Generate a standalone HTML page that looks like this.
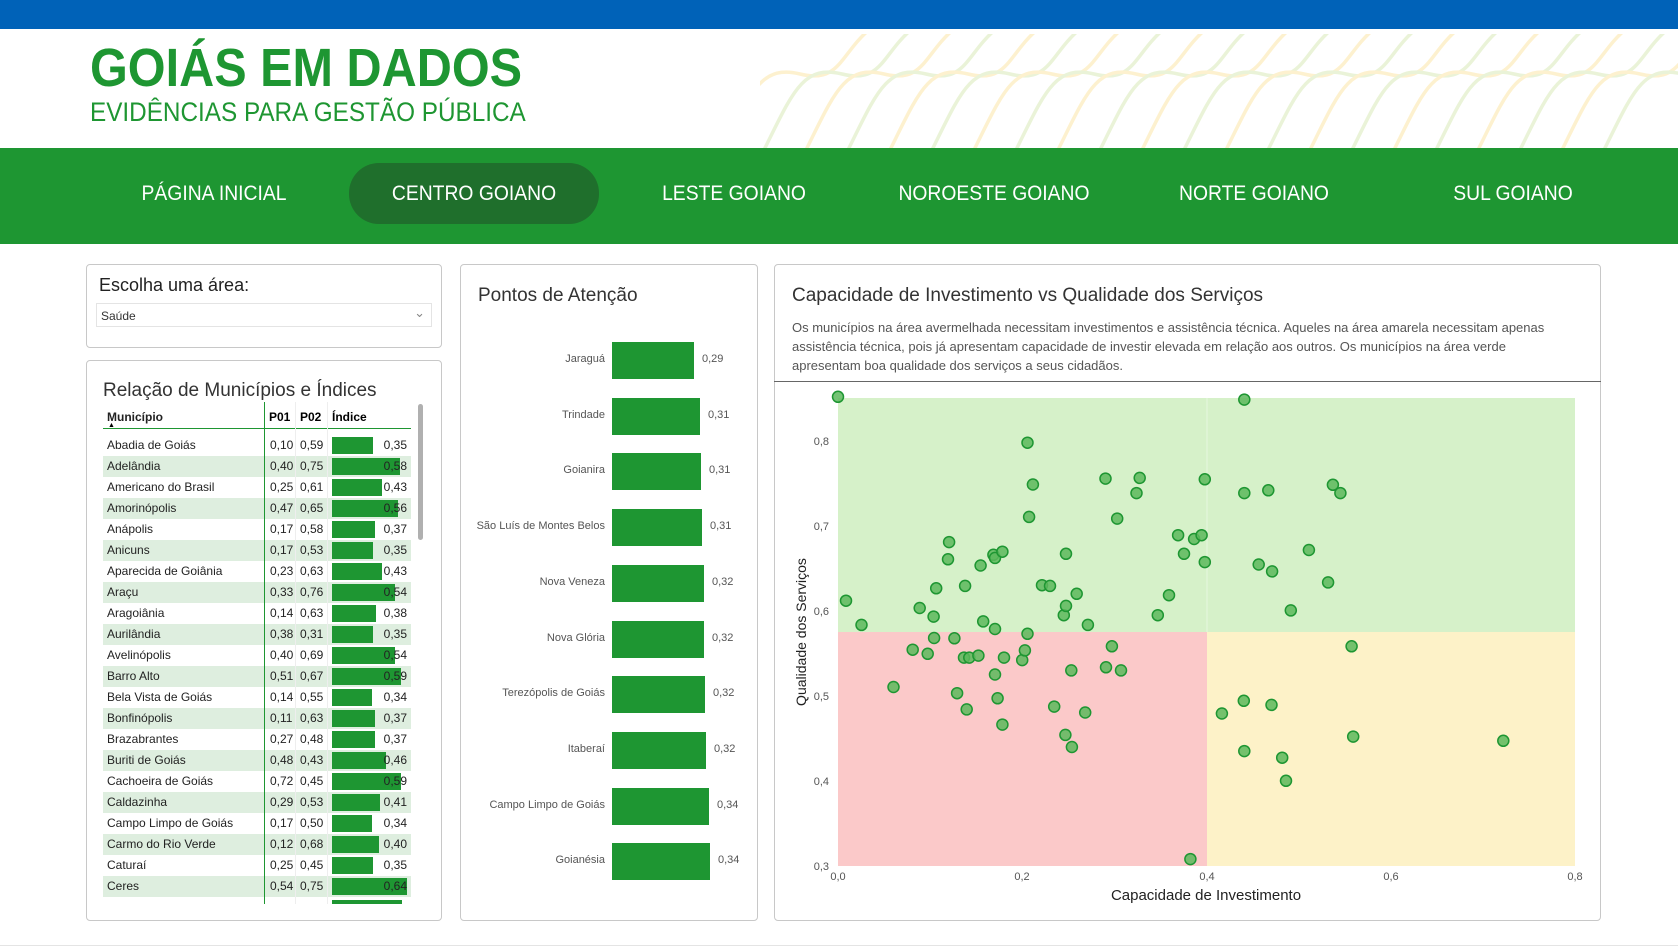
<!DOCTYPE html>
<html><head><meta charset="utf-8">
<style>
*{margin:0;padding:0;box-sizing:border-box}
body{width:1678px;height:948px;background:#fff;font-family:"Liberation Sans",sans-serif;position:relative;overflow:hidden}
.abs{position:absolute}
.panel{position:absolute;border:1px solid #c8c8c8;border-radius:4px;background:#fff}
.nav{position:absolute;top:194px;color:#fff;font-size:21px;transform:translate(-50%,-50%) scaleX(0.92);white-space:nowrap}
.row{position:absolute;left:103px;width:308px;height:21px;font-size:12px;color:#222}
.row span{position:absolute;top:3px}
.bl{position:absolute;font-size:11px;color:#555;text-align:right;width:180px;left:425px}
</style></head><body>
<div class="abs" style="left:0;top:0;width:1678px;height:29px;background:#0062b8"></div>
<svg class="abs" style="left:760px;top:34px" width="918" height="114">
<g fill="none" stroke-width="3.5" id="waves"></g>
</svg>
<div class="abs" style="left:90px;top:37px;font-size:54px;font-weight:bold;color:#1e9632;transform:scaleX(0.9);transform-origin:left;white-space:nowrap">GOIÁS EM DADOS</div>
<div class="abs" style="left:90px;top:97px;font-size:27px;color:#1e9632;transform:scaleX(0.9);transform-origin:left;white-space:nowrap">EVIDÊNCIAS PARA GESTÃO PÚBLICA</div>
<div class="abs" style="left:0;top:148px;width:1678px;height:96px;background:#1e9632"></div>
<div class="abs" style="left:349px;top:163px;width:250px;height:61px;border-radius:30px;background:#1f6f2c"></div>
<div class="nav" style="left:214px">PÁGINA INICIAL</div>
<div class="nav" style="left:474px">CENTRO GOIANO</div>
<div class="nav" style="left:734px">LESTE GOIANO</div>
<div class="nav" style="left:994px">NOROESTE GOIANO</div>
<div class="nav" style="left:1254px">NORTE GOIANO</div>
<div class="nav" style="left:1513px">SUL GOIANO</div>

<div class="panel" style="left:86px;top:264px;width:356px;height:84px"></div>
<div class="abs" style="left:99px;top:275px;font-size:18px;color:#222">Escolha uma área:</div>
<div class="abs" style="left:96px;top:303px;width:336px;height:24px;border:1px solid #e4e4e4;font-size:12px;color:#333;padding:5px 4px">Saúde<span style="position:absolute;right:6px;top:1px;color:#888;font-size:13px">&#8964;</span></div>

<div class="panel" style="left:86px;top:360px;width:356px;height:561px"></div>
<div class="abs" style="left:103px;top:380px;font-size:19px;color:#333">Relação de Municípios e Índices</div>
<div class="abs" style="left:107px;top:410px;font-size:12px;font-weight:bold;color:#222">Município</div>
<div class="abs" style="left:108px;top:422px;font-size:7px">&#9650;</div>
<div class="abs" style="left:269px;top:410px;font-size:12px;font-weight:bold">P01</div>
<div class="abs" style="left:300px;top:410px;font-size:12px;font-weight:bold">P02</div>
<div class="abs" style="left:332px;top:410px;font-size:12px;font-weight:bold">Índice</div>
<div class="abs" style="left:103px;top:428px;width:308px;height:1px;background:#1e9632"></div>
<div id="rows"></div>
<div class="abs" style="left:264px;top:402px;width:1px;height:502px;background:#1e9632"></div>
<div class="abs" style="left:295px;top:402px;width:1px;height:502px;background:#eee"></div>
<div class="abs" style="left:327px;top:402px;width:1px;height:502px;background:#eee"></div>
<div class="abs" style="left:418px;top:404px;width:5px;height:136px;border-radius:3px;background:#b0b0b0"></div>

<div class="panel" style="left:460px;top:264px;width:298px;height:657px"></div>
<div class="abs" style="left:478px;top:285px;font-size:19px;color:#333">Pontos de Atenção</div>
<div id="bars"></div>

<div class="panel" style="left:774px;top:264px;width:827px;height:657px"></div>
<div class="abs" style="left:792px;top:285px;font-size:19px;color:#333">Capacidade de Investimento vs Qualidade dos Serviços</div>
<div class="abs" style="left:792px;top:318px;width:785px;font-size:13px;line-height:19px;color:#555">Os municípios na área avermelhada necessitam investimentos e assistência técnica. Aqueles na área amarela necessitam apenas assistência técnica, pois já apresentam capacidade de investir elevada em relação aos outros. Os municípios na área verde apresentam boa qualidade dos serviços a seus cidadãos.</div>
<div class="abs" style="left:774px;top:381px;width:827px;height:1px;background:#666"></div>
<svg class="abs" style="left:0;top:0" width="1678" height="948" id="sc">
<rect x="838" y="398" width="369" height="234" fill="#d6f1c9"/>
<rect x="1207" y="398" width="368" height="234" fill="#d6f1c9"/>
<rect x="838" y="632" width="369" height="234" fill="#fbc9c9"/>
<rect x="1207" y="632" width="368" height="234" fill="#fdf2c8"/>
<line x1="1207" y1="398" x2="1207" y2="632" stroke="#e6f6de" stroke-width="1"/>
<g font-family="Liberation Sans" font-size="11" fill="#555" text-anchor="end">
<text x="829" y="445">0,8</text><text x="829" y="530">0,7</text><text x="829" y="615">0,6</text><text x="829" y="700">0,5</text><text x="829" y="785">0,4</text><text x="829" y="870">0,3</text>
</g>
<g font-family="Liberation Sans" font-size="11" fill="#555" text-anchor="middle">
<text x="838" y="880">0,0</text><text x="1022" y="880">0,2</text><text x="1207" y="880">0,4</text><text x="1391" y="880">0,6</text><text x="1575" y="880">0,8</text>
</g>
<text x="1206" y="900" font-family="Liberation Sans" font-size="15" fill="#222" text-anchor="middle">Capacidade de Investimento</text>
<text transform="translate(806,632) rotate(-90)" font-family="Liberation Sans" font-size="14" fill="#222" text-anchor="middle">Qualidade dos Serviços</text>
<g id="pts" fill="#5cb85c" fill-opacity="0.85" stroke="#1e9632" stroke-width="1.5"></g>
</svg>
<div class="abs" style="left:0;top:945px;width:1678px;height:1px;background:#e4e4e4"></div>
<script>
var rows=[["Abadia de Goiás","0,10","0,59",.35],["Adelândia","0,40","0,75",.58],["Americano do Brasil","0,25","0,61",.43],["Amorinópolis","0,47","0,65",.56],["Anápolis","0,17","0,58",.37],["Anicuns","0,17","0,53",.35],["Aparecida de Goiânia","0,23","0,63",.43],["Araçu","0,33","0,76",.54],["Aragoiânia","0,14","0,63",.38],["Aurilândia","0,38","0,31",.35],["Avelinópolis","0,40","0,69",.54],["Barro Alto","0,51","0,67",.59],["Bela Vista de Goiás","0,14","0,55",.34],["Bonfinópolis","0,11","0,63",.37],["Brazabrantes","0,27","0,48",.37],["Buriti de Goiás","0,48","0,43",.46],["Cachoeira de Goiás","0,72","0,45",.59],["Caldazinha","0,29","0,53",.41],["Campo Limpo de Goiás","0,17","0,50",.34],["Carmo do Rio Verde","0,12","0,68",.40],["Caturaí","0,25","0,45",.35],["Ceres","0,54","0,75",.64]];
var h="";rows.forEach(function(r,i){var t=435+i*21;var bg=i%2?"#deeedf":"#fff";var w=Math.round(r[3]*117);
h+='<div class="row" style="top:'+t+'px;background:'+bg+'"><span style="left:4px">'+r[0]+'</span><span style="left:167px">'+r[1]+'</span><span style="left:197px">'+r[2]+'</span><div style="position:absolute;left:229px;top:2px;width:'+w+'px;height:17px;background:#1e9632"></div><span style="right:4px">'+r[3].toFixed(2).replace(".",",")+'</span></div>';});
h+='<div style="position:absolute;left:332px;top:900px;width:70px;height:4px;background:#1e9632"></div>';
document.getElementById("rows").innerHTML=h;
var bars=[["Jaraguá",.29],["Trindade",.31],["Goianira",.31],["São Luís de Montes Belos",.31],["Nova Veneza",.32],["Nova Glória",.32],["Terezópolis de Goiás",.32],["Itaberaí",.32],["Campo Limpo de Goiás",.34],["Goianésia",.34]];
var ww=[82,88,89,90,92,92,93,94,97,98];
h="";bars.forEach(function(b,i){var c=360+i*55.7;h+='<div class="bl" style="top:'+(c-7)+'px">'+b[0]+'</div><div class="abs" style="left:612px;top:'+(c-18)+'px;width:'+ww[i]+'px;height:37px;background:#1e9632"></div><div class="abs" style="left:'+(612+ww[i]+8)+'px;top:'+(c-7)+'px;font-size:11px;color:#555">'+b[1].toFixed(2).replace(".",",")+'</div>';});
document.getElementById("bars").innerHTML=h;
var P=[[125,52],[886,60],[480,185],[626,289],[690,287],[490,306],[684,331],[812,291],[886,331],[931,323],[1052,307],[1066,331],[483,400],[648,405],[333,473],[331,523],[416,510],[419,519],[433,501],[552,507],[392,541],[762,453],[792,464],[806,453],[773,507],[812,531],[1007,496],[913,538],[938,558],[1043,590],[309,607],[363,600],[507,598],[522,600],[572,623],[140,643],[278,664],[304,689],[169,713],[397,703],[419,725],[548,685],[552,658],[593,713],[724,685],[745,627],[973,671],[305,751],[343,752],[265,785],[293,797],[361,808],[371,808],[388,802],[436,808],[470,815],[475,787],[480,739],[419,857],[562,845],[627,836],[655,845],[638,775],[229,893],[348,911],[424,926],[366,958],[433,1002],[530,950],[588,967],[551,1032],[563,1067],[785,1392],[1087,775],[885,933],[937,945],[844,970],[1090,1037],[1371,1049],[886,1079],[957,1098],[964,1165]];
h="";P.forEach(function(p){var x=838+(p[0]-125)/1725*921;var y=866-(1412-p[1])/2464*850;h+='<circle cx="'+x.toFixed(1)+'" cy="'+y.toFixed(1)+'" r="5.5"/>';});
document.getElementById("pts").innerHTML=h;
h="";for(var k=0;k<22;k++){var x0=k*42-40;var col=k%2?"#eaf3d8":"#fdf1cf";
h+='<path stroke="'+col+'" d="M'+x0+' 120 C '+(x0+30)+' 60, '+(x0+40)+' 30, '+(x0+80)+' 40 S '+(x0+120)+' 20, '+(x0+150)+' -5"/>';}
document.getElementById("waves").innerHTML=h;
</script>
</body></html>
